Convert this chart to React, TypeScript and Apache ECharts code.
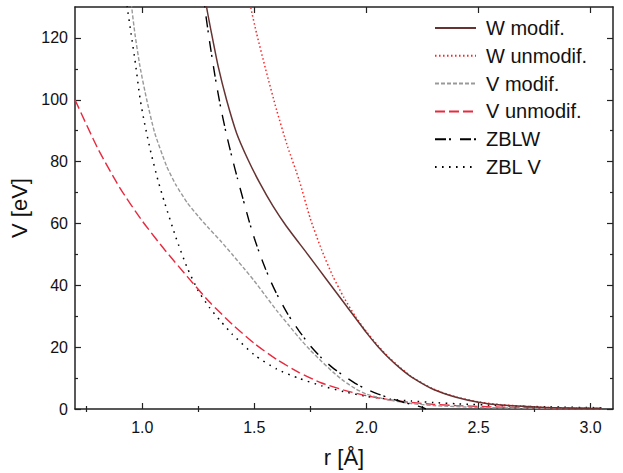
import React, { useEffect, useRef } from "react";
import * as echarts from "echarts";

const xMajor = [1.0, 1.5, 2.0, 2.5, 3.0];
const xMinor = [0.75, 1.25, 1.75, 2.25, 2.75];
const yMajor = [0, 20, 40, 60, 80, 100, 120];
const yMinor = [10, 30, 50, 70, 90, 110];

const seriesNames = ["W modif.", "W unmodif.", "V modif.", "V unmodif.", "ZBLW", "ZBL V"];

const wModif: number[][] = [
  [1.28, 135], [1.287, 130], [1.309, 121.5], [1.339, 110.7], [1.376, 100], [1.421, 89.2],
  [1.472, 80.6], [1.524, 73.1], [1.584, 65.5], [1.643, 59.1], [1.733, 50.5], [1.822, 41.9],
  [1.911, 33.3], [2.0, 24.7], [2.05, 20.3], [2.1, 16.5], [2.15, 13.2], [2.2, 10.4],
  [2.3, 6.3], [2.4, 3.8], [2.5, 2.2], [2.6, 1.3], [2.8, 0.5], [3.05, 0.15],
];

const wUnmodif: number[][] = [
  [1.478, 135], [1.484, 130], [1.51, 121.5], [1.55, 110], [1.6, 96.5], [1.65, 84.5],
  [1.7, 74], [1.75, 61.5], [1.8, 51.5], [1.85, 43], [1.9, 36], [1.95, 30], [2.0, 25],
  [2.05, 20.6], [2.1, 16.7], [2.2, 10.5], [2.3, 6.4], [2.4, 3.9], [2.5, 2.3], [2.6, 1.4],
  [2.8, 0.5], [3.05, 0.15],
];

const vModif: number[][] = [
  [0.948, 135], [0.953, 130], [0.967, 121.5], [0.99, 110.7], [1.02, 100], [1.056, 89.2],
  [1.109, 78.5], [1.15, 72.5], [1.2, 66.8], [1.25, 62.3], [1.3, 58.2], [1.35, 54.3],
  [1.4, 50.1], [1.45, 45.8], [1.5, 41.4], [1.55, 36.6], [1.6, 31.8], [1.65, 27.4],
  [1.7, 23], [1.75, 19], [1.8, 15.4], [1.85, 12], [1.9, 9], [1.95, 6.6], [2.0, 4.8],
  [2.1, 2.9], [2.2, 1.8], [2.3, 1.1], [2.5, 0.5], [2.8, 0.2], [3.05, 0.1],
];

const vUnmodif: number[][] = [
  [0.7, 100], [0.8, 84.5], [0.9, 71.5], [1.0, 60.8], [1.1, 51.5], [1.2, 42.9], [1.3, 34.6],
  [1.4, 27.5], [1.5, 21.2], [1.6, 16], [1.7, 11.8], [1.8, 8.4], [1.9, 6.1], [2.0, 4.3],
  [2.1, 3.0], [2.2, 2.1], [2.3, 1.5], [2.4, 1.1], [2.6, 0.6], [2.8, 0.35], [3.05, 0.2],
];

const zblW: number[][] = [
  [1.275, 135], [1.279, 130], [1.3, 119], [1.325, 107.5], [1.35, 97.5], [1.375, 89],
  [1.4, 81.5], [1.425, 74.5], [1.45, 67.8], [1.475, 61.2], [1.5, 55.2], [1.525, 50],
  [1.55, 45.3], [1.575, 41], [1.6, 37.2], [1.65, 30.6], [1.7, 25.2], [1.75, 20.4],
  [1.8, 16.5], [1.85, 13.3], [1.9, 10.7], [1.95, 8.3], [2.0, 6.4], [2.05, 4.9],
  [2.1, 3.6], [2.15, 2.5], [2.2, 1.5], [2.25, 0.5], [2.265, 0],
];

const zblV: number[][] = [
  [0.928, 135], [0.933, 130], [0.95, 121.5], [0.97, 111.5], [0.99, 100.5], [1.01, 92.5],
  [1.04, 82.5], [1.07, 74], [1.1, 66.7], [1.15, 55.5], [1.2, 45.8], [1.25, 38.2],
  [1.3, 32.8], [1.35, 28.4], [1.4, 24.3], [1.5, 17.5], [1.6, 12.9], [1.7, 9.9],
  [1.8, 7.5], [1.9, 5.6], [2.0, 4.1], [2.1, 3.2], [2.2, 2.6], [2.3, 2.1], [2.4, 1.7],
  [2.6, 1.1], [2.8, 0.7], [3.05, 0.4],
];

const FONT = "'Liberation Sans', Arial, Helvetica, sans-serif";
const AXIS_COLOR = "#222";

export default function App() {
  const ref = useRef<HTMLDivElement>(null);

  useEffect(() => {
    document.body.style.margin = "0";
    if (!ref.current) return;
    const chart = echarts.init(ref.current, undefined, { renderer: "svg" });

    const axisLineStyle = { color: AXIS_COLOR, width: 1.5 };
    const tickLine = { color: AXIS_COLOR, width: 1.2 };

    const xBase = { type: "value" as const, min: 0.7, max: 3.1, splitLine: { show: false } };
    const yBase = { type: "value" as const, min: 0, max: 130, splitLine: { show: false } };

    const mk = (name: string, data: number[][], color: string, width: number, type: any, z = 2) => ({
      name,
      type: "line",
      data,
      symbol: "none",
      smooth: 0.2,
      clip: true,
      z,
      itemStyle: { color },
      lineStyle: { color, width, type },
    });

    chart.setOption({
      animation: false,
      textStyle: { fontFamily: FONT },
      grid: { left: 75, right: 10, top: 7, bottom: 63 },
      legend: {
        orient: "vertical",
        left: 434,
        top: 18,
        padding: 0,
        itemWidth: 41,
        itemHeight: 14,
        itemGap: 7.8,
        data: seriesNames,
        itemStyle: { opacity: 0, borderWidth: 0 },
        textStyle: { fontSize: 20, lineHeight: 20, color: "#111", fontFamily: FONT, padding: [0, 0, 0, 5] },
      },
      xAxis: [
        {
          ...xBase,
          position: "bottom",
          axisLine: { show: true, onZero: false, lineStyle: axisLineStyle },
          axisTick: { show: true, inside: true, length: 6, customValues: xMajor, lineStyle: tickLine },
          axisLabel: {
            customValues: xMajor,
            formatter: (v: number) => v.toFixed(1),
            fontSize: 16,
            margin: 10,
            color: "#111",
            fontFamily: FONT,
          },
          name: "r [Å]",
          nameLocation: "middle",
          nameGap: 37,
          nameTextStyle: { fontSize: 22, color: "#111", fontFamily: FONT },
        },
        {
          ...xBase,
          position: "bottom",
          axisLine: { show: false },
          axisTick: { show: true, inside: true, length: 3, customValues: xMinor, lineStyle: tickLine },
          axisLabel: { show: false },
        },
        {
          ...xBase,
          position: "top",
          axisLine: { show: true, onZero: false, lineStyle: axisLineStyle },
          axisTick: { show: true, inside: true, length: 6, customValues: xMajor, lineStyle: tickLine },
          axisLabel: { show: false },
        },
        {
          ...xBase,
          position: "top",
          axisLine: { show: false },
          axisTick: { show: true, inside: true, length: 3, customValues: xMinor, lineStyle: tickLine },
          axisLabel: { show: false },
        },
      ],
      yAxis: [
        {
          ...yBase,
          position: "left",
          axisLine: { show: true, onZero: false, lineStyle: axisLineStyle },
          axisTick: { show: true, inside: true, length: 6, customValues: yMajor, lineStyle: tickLine },
          axisLabel: {
            customValues: yMajor,
            fontSize: 16,
            margin: 7,
            color: "#111",
            fontFamily: FONT,
          },
          name: "V [eV]",
          nameLocation: "middle",
          nameGap: 31,
          nameTextStyle: { fontSize: 22, color: "#111", fontFamily: FONT },
        },
        {
          ...yBase,
          position: "left",
          axisLine: { show: false },
          axisTick: { show: true, inside: true, length: 3, customValues: yMinor, lineStyle: tickLine },
          axisLabel: { show: false },
        },
        {
          ...yBase,
          position: "right",
          axisLine: { show: true, onZero: false, lineStyle: axisLineStyle },
          axisTick: { show: true, inside: true, length: 6, customValues: yMajor, lineStyle: tickLine },
          axisLabel: { show: false },
        },
        {
          ...yBase,
          position: "right",
          axisLine: { show: false },
          axisTick: { show: true, inside: true, length: 3, customValues: yMinor, lineStyle: tickLine },
          axisLabel: { show: false },
        },
      ],
      series: [
        mk(seriesNames[0], wModif, "#663333", 1.5, "solid", 6),
        mk(seriesNames[1], wUnmodif, "#ff2424", 1.5, [1.5, 2.5], 5),
        mk(seriesNames[2], vModif, "#999999", 1.4, [4, 2], 4),
        mk(seriesNames[3], vUnmodif, "#e8293e", 1.4, [10, 4], 3),
        mk(seriesNames[4], zblW, "#000000", 1.4, [11, 3, 2, 9], 7),
        mk(seriesNames[5], zblV, "#000000", 1.5, [1.6, 5.4], 2),
      ],
    });

    return () => chart.dispose();
  }, []);

  return <div ref={ref} style={{ width: 623, height: 473 }} />;
}
